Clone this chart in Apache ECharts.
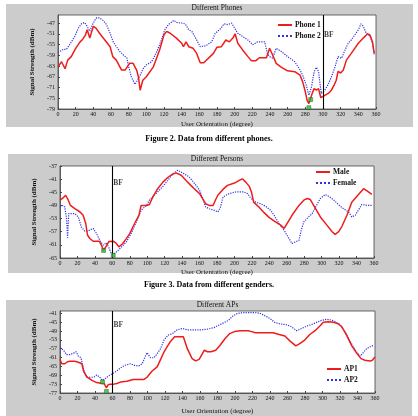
<!DOCTYPE html>
<html>
<head>
<meta charset="utf-8" />
<title>Signal Strength vs Orientation</title>
<script src="https://cdn.jsdelivr.net/npm/echarts@6/dist/echarts.min.js"></script>
<style>body{margin:0;background:#fff}</style>
</head>
<body>
<div id="main" style="width:418px;height:416px"></div>
<script>
// Figure 2 - phones
var phone1 = [[0,-63.3],[4,-61.4],[6,-61],[8,-64],[11,-60.8],[15,-59.5],[20,-56.4],[25,-54],[28,-53],[31,-51.5],[33,-49.5],[36,-52.6],[38,-53],[40,-48.2],[43,-48.9],[47,-50.8],[53,-53.3],[59,-55.8],[62,-59.5],[66,-60.8],[72,-64.5],[76,-64.5],[81,-62],[85,-62],[89,-64.5],[91,-67],[93,-72],[96,-68.3],[100,-67],[108,-63.3],[115,-57],[120,-51.4],[123,-50.1],[127,-50.8],[134,-52.6],[140,-54.5],[142,-55.8],[145,-54],[148,-55.8],[153,-56.4],[157,-58.3],[161,-61.8],[165,-61.8],[176,-58.3],[180,-56],[185,-55.8],[190,-53.3],[194,-54],[198,-52.6],[200.5,-51],[203.5,-54.5],[209,-57],[215,-59.5],[219,-61],[224,-61],[228,-59.9],[236,-59.9],[239.5,-56.4],[243,-58.9],[247,-62],[253,-63.5],[260,-64.8],[268,-65.1],[274,-66.4],[277,-68.9],[280,-72.6],[282,-75.8],[284,-77],[286,-75],[288,-73],[290,-71.4],[292.5,-72],[295,-71.4],[297.5,-74.8],[300,-74.3],[306,-73.2],[309.5,-72],[313,-69.8],[315,-68.3],[317,-65],[320,-65.6],[323,-64.5],[326.5,-60.8],[332,-58.3],[336,-56.4],[340,-54.5],[345.5,-52.6],[350.5,-51],[353,-51.4],[356,-54],[358,-58.3]];
var phone2 = [[0,-58],[6,-56.8],[9.5,-56.8],[13,-55.1],[19,-52],[23,-48.9],[26.5,-47.3],[30,-46.8],[33,-48.2],[36,-50.1],[39,-47.6],[42,-45.8],[44,-45],[47,-45.1],[51,-46],[55,-47.6],[59,-50.8],[62.5,-54],[66,-55.8],[70,-57.6],[74,-58.9],[78,-60],[79.5,-62.6],[83,-67],[87,-69.8],[90,-68.3],[93,-66.4],[96.5,-63.9],[100,-62.6],[106,-61.4],[112,-57.6],[117,-53.3],[121,-49.5],[125,-47.6],[131,-46],[134.5,-46.8],[140,-47],[144,-47.3],[148,-49.5],[151.5,-50.1],[157,-53.3],[161,-55.8],[167,-55.5],[174,-54],[178,-50.8],[181,-50],[184.5,-48.9],[188,-47.3],[192,-47.6],[196.5,-47],[200,-48.9],[203.5,-50.8],[209,-52],[215,-53.3],[220.5,-55.1],[226,-54],[234,-54],[237,-58.3],[239.5,-59.5],[243,-60.1],[247,-56.4],[253,-57.6],[260,-59.5],[268,-61.4],[274,-64.5],[277,-66.4],[281,-70.1],[284,-73.9],[287,-70.8],[290,-65.1],[292.5,-63.5],[295,-65.1],[298,-73.2],[302,-72],[306,-69.8],[309.5,-67],[313,-63.9],[317,-59.5],[321,-60.1],[325,-57],[328.5,-54.5],[332,-53.3],[336,-51.4],[340,-49.5],[343,-47.3],[345.5,-48.2],[349,-50.8],[353,-51.8],[356,-54.5],[358,-58.9]];
var phoneMarks = [[284,-78.5],[286,-75.5]];

// Figure 3 - persons
var male = [[0,-47.4],[2,-46.9],[4,-46.6],[6.5,-45.9],[9.5,-47.4],[12,-49],[17,-50],[23,-51],[26.5,-52],[29.5,-54.5],[31.5,-58],[34,-59],[38,-59.9],[45,-59.9],[47.5,-61.1],[50,-62.7],[53,-61.4],[56,-60],[61,-59.9],[64,-60.4],[67.5,-61.6],[72,-60.6],[76,-59.1],[80,-57.6],[85.5,-54.5],[90.5,-52],[93,-49],[99,-49],[102.5,-48.7],[106.5,-46.4],[112,-43.9],[118,-41.9],[123.5,-40.5],[129,-39.5],[133,-39.1],[139,-39.8],[144.5,-41.4],[150,-42.9],[154,-43.9],[160,-45.4],[163.5,-46.9],[167,-48.5],[171,-49],[175.5,-49],[178.5,-47.2],[181,-45.9],[186.5,-44.2],[192,-42.9],[200,-42.2],[205.5,-41.4],[209,-40.9],[213,-41.9],[217,-43.2],[219.5,-44.9],[222,-48],[228,-49.5],[234,-51.2],[240,-52.7],[247,-54],[253,-55],[257,-56],[259,-55.5],[266,-52],[274,-49],[279.5,-47.4],[283.5,-46.9],[287,-47.2],[293,-50],[298.5,-52.5],[306,-55],[312,-57],[315.5,-57.8],[319.5,-57],[323,-55.5],[329,-52],[334.5,-48],[340.5,-46.2],[348,-43.9],[352,-44.6],[357.5,-45.6]];
var female = [[0,-49.5],[3,-49],[5.5,-49.5],[7.5,-53],[8.7,-58.8],[10,-51.5],[11.5,-51],[17,-51.5],[21,-52.5],[24.5,-55.6],[28.5,-56.8],[32,-56.8],[38,-56],[42,-57.6],[45.5,-59.6],[49.5,-61.1],[53,-60.4],[56,-61.8],[58,-63.2],[61,-63.9],[64.5,-63.2],[70,-61.8],[76,-60.1],[81.5,-57.6],[87.5,-54],[93,-50.5],[99,-49],[102.5,-47.4],[110,-45.4],[118,-43.2],[123.5,-41.4],[129,-39.5],[135,-38.3],[140.5,-39.1],[148,-40.3],[156,-42.9],[160,-44.4],[163,-46.4],[167,-49.5],[171,-50],[177,-50.5],[181,-51],[184,-49.5],[187,-46.4],[194,-45.4],[201.5,-44.9],[211,-44.9],[215,-45.4],[219,-46.9],[224.5,-48],[230,-48.5],[236,-49.3],[241.5,-50.5],[245.5,-52],[251,-54.5],[257,-56.6],[261,-58.4],[266,-60.6],[270,-60.1],[274,-59.6],[276.5,-56.6],[279.5,-54],[285,-52.5],[289,-51.5],[293,-49.5],[298.5,-46.9],[304,-45.7],[308,-46.2],[314,-47.4],[319.5,-48.8],[325,-50],[331,-51],[334.5,-52.5],[338.5,-52],[342,-50.5],[346,-48.7],[352,-49],[354,-49.5],[357.5,-49]];
var personMarks = [[50,-62.7],[61,-64.2]];

// Figure 4 - access points
var ap1 = [[0,-61.8],[2,-63.8],[5.5,-63.8],[8.5,-62.9],[11.5,-62.7],[17,-62.7],[21,-63.1],[25,-63.8],[27,-67.2],[30.5,-69.7],[36.5,-71.3],[42,-72.3],[48,-72.7],[50.5,-72.7],[53,-74.7],[55,-73.3],[57.5,-73],[61.5,-73],[65,-72.7],[69.5,-72],[76.5,-71.7],[83.5,-70.9],[88,-70.9],[96,-70.9],[99.5,-69.9],[105,-67.2],[111,-65.2],[115,-61.8],[119,-58.4],[122.5,-56.1],[126.5,-53.6],[131,-51.6],[141,-51.6],[145.5,-57],[151,-61.5],[155,-62.5],[159,-61.8],[165,-57.7],[168.5,-58.4],[172.5,-58.4],[178,-57.7],[182.5,-55.7],[188.5,-52.5],[194,-50.2],[200,-49.2],[205.5,-48.9],[215,-48.9],[219,-49.3],[223.5,-49.8],[234,-49.8],[243.5,-49.8],[249.5,-50.5],[257,-51.3],[263,-53.6],[269.5,-55.7],[274,-54.7],[280,-53],[285.5,-50.6],[291.5,-48.9],[297,-46.8],[301,-45.1],[306.5,-44.8],[312.5,-45.1],[318,-45.8],[322,-47.1],[327.5,-50.9],[333.5,-55.7],[339,-59],[344,-61.5],[348.5,-62.2],[354.5,-62.6],[357,-62.2],[360,-60.7]];
var ap2 = [[0,-56.6],[4,-57.7],[7.5,-59.7],[11.5,-59.7],[15.5,-59],[18.5,-58.4],[21,-60.4],[24,-61.1],[27,-66.5],[30.5,-69.7],[34.5,-69.9],[38.5,-69.9],[42,-68.9],[45,-69.7],[48.5,-71.3],[51.5,-70.6],[55.5,-69.3],[61.5,-67.9],[65,-67],[71,-65.2],[74.5,-64.5],[80.5,-63.8],[84.5,-64.5],[90,-64.8],[94,-63.8],[97.5,-60.4],[99.5,-58.8],[103.5,-61.1],[107.5,-61.1],[111,-59.3],[115,-57],[119,-53],[123.5,-50.9],[128.5,-50.2],[134,-48.5],[140,-47.9],[145.5,-48.5],[153,-48.5],[161,-48.5],[168.5,-48.2],[176,-47.5],[184.5,-45.8],[192,-44.4],[198,-42.1],[203.5,-41],[211,-40.7],[222.5,-40.7],[228.5,-41],[234,-42.1],[240,-43.4],[245.5,-45.2],[251.5,-45.8],[259,-46.2],[264.5,-47.1],[270.5,-48.9],[276,-47.9],[282,-46.8],[289.5,-45.8],[295,-44.8],[300,-44.1],[305,-43.7],[310,-44.1],[314.5,-44.8],[320,-46.2],[326,-49.6],[331.5,-53.6],[337.5,-57.7],[343,-60.4],[345,-59.7],[350.5,-57],[356.5,-55.7],[359,-55.7]];
var apMarks = [[48.5,-72],[53,-76.3]];

var panelTitles = ['Different Phones', 'Different Persons', 'Different APs'];
var seriesNames = [['Phone 1', 'Phone 2'], ['Male', 'Female'], ['AP1', 'AP2']];
var seriesData = [[phone1, phone2], [male, female], [ap1, ap2]];
var markData = [phoneMarks, personMarks, apMarks];
var bfAngle = [300, 60, 60];
var bfLabelY = [-51.5, -42.2, -46.4];
var yRange = [[-79, -44], [-65, -37], [-77, -40]];
var captions = ['Figure 2. Data from different phones.', 'Figure 3. Data from different genders.'];

var serif = '"Liberation Serif", "DejaVu Serif", serif';

var layout = [
  { grid: {left: 58, top: 15, width: 318, height: 94}, bg: [6, 4, 407, 123], legend: {left: 277, top: 21}, nameGap: 12, titleY: 8 },
  { grid: {left: 60, top: 166, width: 314, height: 92}, bg: [8, 154, 404, 119], legend: {left: 315, top: 168}, nameGap: 11, titleY: 159 },
  { grid: {left: 60, top: 311, width: 315, height: 90}, bg: [6, 300, 406, 120], legend: {left: 326, top: 365}, nameGap: 15, titleY: 305 }
];

var grids = [], xAxes = [], yAxes = [], series = [], legends = [], graphics = [];

layout.forEach(function (p, i) {
  graphics.push({
    type: 'rect', z: -10,
    shape: {x: p.bg[0], y: p.bg[1], width: p.bg[2], height: p.bg[3]},
    style: {fill: '#cccccc'}
  });
  graphics.push({
    type: 'text', z: 10,
    x: p.grid.left + p.grid.width / 2, y: p.titleY,
    style: {text: panelTitles[i], textAlign: 'center', textVerticalAlign: 'middle',
      font: '7.5px ' + serif, fill: '#111'}
  });

  grids.push(Object.assign({show: true, backgroundColor: '#fff', borderColor: '#444', borderWidth: 0.8}, p.grid));

  xAxes.push({
    type: 'value', gridIndex: i, min: 0, max: 360, interval: 20,
    name: 'User Orientation (degree)', nameLocation: 'middle', nameGap: p.nameGap,
    nameTextStyle: {fontFamily: serif, fontSize: 7, color: '#111'},
    axisLine: {lineStyle: {color: '#444', width: 0.8}},
    axisTick: {inside: true, length: 2, lineStyle: {color: '#444'}},
    axisLabel: {fontFamily: serif, fontSize: 6, color: '#111', margin: 2},
    splitLine: {show: false}
  });
  yAxes.push({
    type: 'value', gridIndex: i, min: yRange[i][0], max: yRange[i][1], interval: 4,
    name: 'Signal Strength (dBm)', nameLocation: 'middle', nameGap: 11,
    nameTextStyle: {fontFamily: serif, fontSize: 7, fontWeight: 'bold', color: '#111'},
    axisLine: {lineStyle: {color: '#444', width: 0.8}},
    axisTick: {inside: true, length: 2, lineStyle: {color: '#444'}},
    axisLabel: {fontFamily: serif, fontSize: 6, color: '#111', margin: 3, showMaxLabel: i === 1},
    splitLine: {show: false}
  });

  series.push({
    name: seriesNames[i][0], type: 'line', xAxisIndex: i, yAxisIndex: i,
    data: seriesData[i][0], symbol: 'none', z: 3,
    lineStyle: {color: '#ee1c1c', width: 1.5},
    itemStyle: {color: '#ee1c1c'},
    markLine: {
      silent: true, symbol: 'none', label: {show: false},
      lineStyle: {color: '#000', width: 1.1, type: 'solid'},
      data: [{xAxis: bfAngle[i]}]
    }
  });
  series.push({
    name: seriesNames[i][1], type: 'line', xAxisIndex: i, yAxisIndex: i,
    data: seriesData[i][1], symbol: 'none', z: 2,
    lineStyle: {color: '#3030e6', width: 1.2, type: 'dotted'},
    itemStyle: {color: '#3030e6'}
  });
  series.push({
    type: 'scatter', xAxisIndex: i, yAxisIndex: i, z: 5,
    data: markData[i], symbol: 'rect', symbolSize: 4,
    itemStyle: {color: '#2fb52f', borderColor: '#145214', borderWidth: 0.5}
  });
  series.push({
    type: 'scatter', xAxisIndex: i, yAxisIndex: i, z: 5,
    data: [[bfAngle[i], bfLabelY[i]]], symbolSize: 0,
    label: {show: true, formatter: 'BF', position: 'right', distance: 1,
      fontFamily: serif, fontSize: 7.5, fontWeight: 'bold', color: '#111'}
  });

  legends.push({
    data: seriesNames[i], orient: 'vertical', left: p.legend.left, top: p.legend.top,
    itemWidth: 14, itemHeight: 7, itemGap: 3, padding: 0,
    itemStyle: {color: 'transparent', borderColor: 'transparent', borderWidth: 0, opacity: 0},
    textStyle: {fontFamily: serif, fontSize: 7.5, fontWeight: 'bold', color: '#111', padding: [0, 0, 0, -2]}
  });
});

graphics.push({
  type: 'text', x: 209, y: 139,
  style: {text: captions[0], textAlign: 'center', textVerticalAlign: 'middle', font: 'bold 8px ' + serif, fill: '#000'}
});
graphics.push({
  type: 'text', x: 209, y: 285,
  style: {text: captions[1], textAlign: 'center', textVerticalAlign: 'middle', font: 'bold 8px ' + serif, fill: '#000'}
});

var myChart = echarts.init(document.getElementById('main'));
myChart.setOption({
  animation: false,
  backgroundColor: '#fff',
  grid: grids,
  xAxis: xAxes,
  yAxis: yAxes,
  legend: legends,
  graphic: graphics,
  series: series
});
</script>
</body>
</html>
